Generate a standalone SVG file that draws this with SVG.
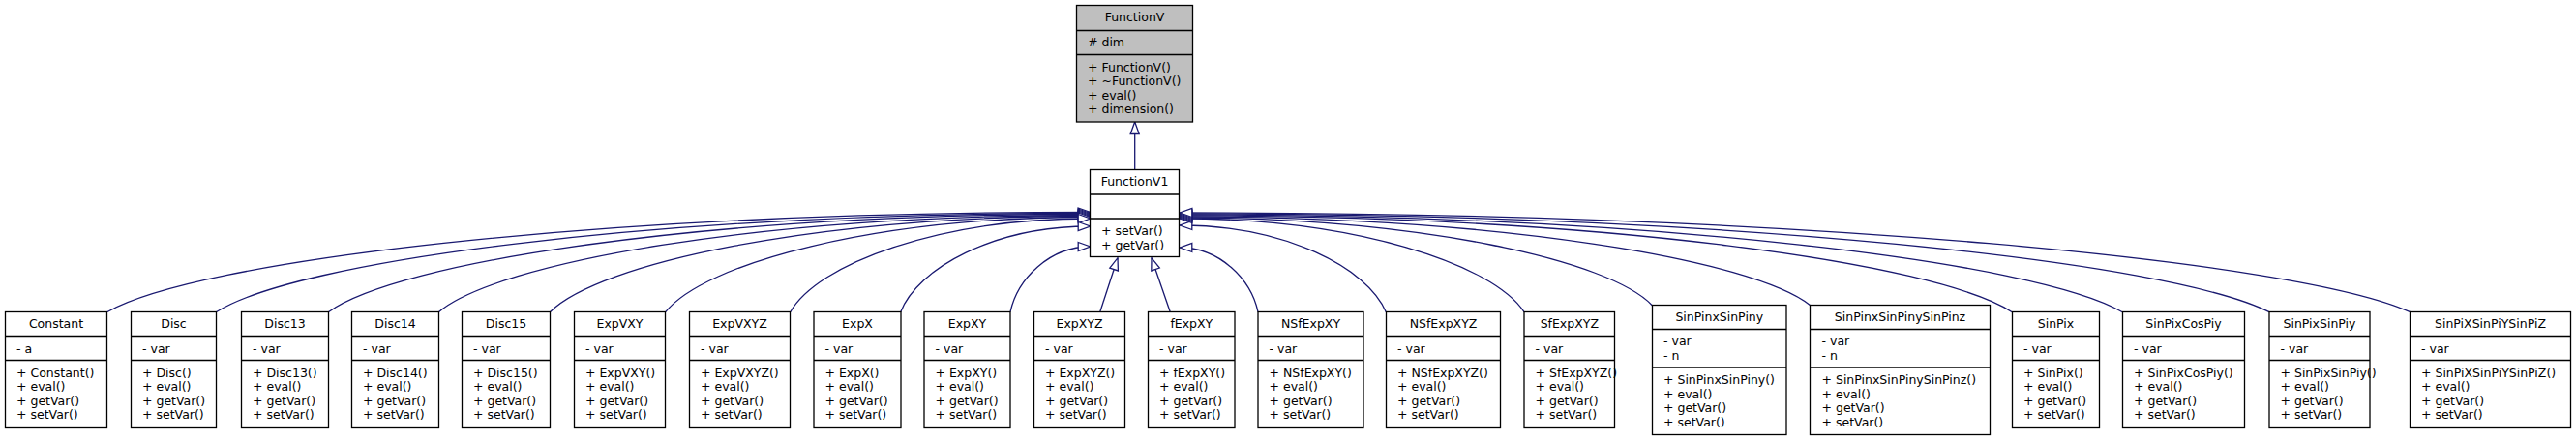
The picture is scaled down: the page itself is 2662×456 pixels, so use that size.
<svg xmlns="http://www.w3.org/2000/svg" width="2662" height="456" viewBox="0 0 2662 456">
<style>
.bg{fill:#fff}
.box{fill:#fff;stroke:#000;stroke-width:1.3}
.grey{fill:#bfbfbf}
.sep{stroke:#000;stroke-width:1.3}
.t{font-family:'DejaVu Sans',sans-serif;font-size:12.5px;fill:#000}
.c{text-anchor:middle}
.e{fill:none;stroke:#191970;stroke-width:1.3}
</style>
<defs>
<marker id="ah" markerUnits="userSpaceOnUse" markerWidth="16" markerHeight="14" refX="13" refY="6" orient="auto" overflow="visible">
<path d="M0.5,1.5 L13,6 L0.5,10.5 Z" fill="#fff" stroke="#191970" stroke-width="1.3"/>
</marker>
</defs>
<rect class="bg" x="0" y="0" width="2662" height="456"/>
<g id="edges">
<path class="e" d="M1172.7,175.3 L1172.7,126" marker-end="url(#ah)"/>
<path class="e" d="M110.5,322.7 C202,270.1 608.4,219.5 1126.7,219.5" marker-end="url(#ah)"/>
<path class="e" d="M223.3,322.7 C304.6,270.6 666,220.5 1126.7,220.5" marker-end="url(#ah)"/>
<path class="e" d="M339.3,322.7 C410.2,271.1 725.1,221.5 1126.7,221.5" marker-end="url(#ah)"/>
<path class="e" d="M453.3,322.7 C513.9,271.6 783.3,222.5 1126.7,222.5" marker-end="url(#ah)"/>
<path class="e" d="M568.3,322.7 C618.6,272.1 841.9,223.5 1126.7,223.5" marker-end="url(#ah)"/>
<path class="e" d="M687.7,322.7 C727.2,272.6 902.8,224.5 1126.7,224.5" marker-end="url(#ah)"/>
<path class="e" d="M816.7,322.7 C844.6,273.4 968.6,226 1126.7,226" marker-end="url(#ah)"/>
<path class="e" d="M930.7,322.7 C948.3,277.5 1026.7,234 1126.7,234" marker-end="url(#ah)"/>
<path class="e" d="M1044,322.7 C1051.4,288.2 1084.5,255 1126.7,255" marker-end="url(#ah)"/>
<path class="e" d="M1136.7,322.7 L1155,266.7" marker-end="url(#ah)"/>
<path class="e" d="M1209.3,322.7 L1190,266.7" marker-end="url(#ah)"/>
<path class="e" d="M1300,322.7 C1292.7,288.7 1260.5,256 1219.3,256" marker-end="url(#ah)"/>
<path class="e" d="M1432.3,322.7 C1413.1,277 1327.9,233 1219.3,233" marker-end="url(#ah)"/>
<path class="e" d="M1575,322.7 C1543,273.4 1400.7,226 1219.3,226" marker-end="url(#ah)"/>
<path class="e" d="M1707.3,315.7 C1663.4,269.4 1468.2,225 1219.3,225" marker-end="url(#ah)"/>
<path class="e" d="M1870.7,315.7 C1812.1,268.9 1551.5,224 1219.3,224" marker-end="url(#ah)"/>
<path class="e" d="M2079.3,322.7 C2001.9,271.9 1657.9,223 1219.3,223" marker-end="url(#ah)"/>
<path class="e" d="M2193.3,322.7 C2105.6,271.3 1716,222 1219.3,222" marker-end="url(#ah)"/>
<path class="e" d="M2345,322.7 C2243.7,270.8 1793.4,221 1219.3,221" marker-end="url(#ah)"/>
<path class="e" d="M2490.7,322.7 C2376.3,270.3 1867.7,220 1219.3,220" marker-end="url(#ah)"/>
</g>
<g id="FunctionV">
<rect class="box grey" x="1112.5" y="5.5" width="120" height="120.5"/>
<line class="sep" x1="1112.5" y1="31.5" x2="1232.5" y2="31.5"/>
<line class="sep" x1="1112.5" y1="56.5" x2="1232.5" y2="56.5"/>
<text class="t c" x="1172.5" y="22">FunctionV</text>
<text class="t" x="1124" y="47.5"># dim</text>
<text class="t" x="1124" y="73.5">+ FunctionV()</text>
<text class="t" x="1124" y="88">+ ~FunctionV()</text>
<text class="t" x="1124" y="102.5">+ eval()</text>
<text class="t" x="1124" y="117">+ dimension()</text>
</g>
<g id="FunctionV1">
<rect class="box" x="1126.5" y="175.5" width="92" height="90"/>
<line class="sep" x1="1126.5" y1="201" x2="1218.5" y2="201"/>
<line class="sep" x1="1126.5" y1="226" x2="1218.5" y2="226"/>
<text class="t c" x="1172.5" y="192">FunctionV1</text>
<text class="t" x="1138" y="243">+ setVar()</text>
<text class="t" x="1138" y="257.5">+ getVar()</text>
</g>
<g id="Constant">
<rect class="box" x="5.5" y="322.5" width="105" height="120"/>
<line class="sep" x1="5.5" y1="347.5" x2="110.5" y2="347.5"/>
<line class="sep" x1="5.5" y1="372.5" x2="110.5" y2="372.5"/>
<text class="t c" x="58" y="339">Constant</text>
<text class="t" x="17" y="364.5">- a</text>
<text class="t" x="17" y="389.5">+ Constant()</text>
<text class="t" x="17" y="404">+ eval()</text>
<text class="t" x="17" y="418.5">+ getVar()</text>
<text class="t" x="17" y="433">+ setVar()</text>
</g>
<g id="Disc">
<rect class="box" x="135.5" y="322.5" width="88" height="120"/>
<line class="sep" x1="135.5" y1="347.5" x2="223.5" y2="347.5"/>
<line class="sep" x1="135.5" y1="372.5" x2="223.5" y2="372.5"/>
<text class="t c" x="179.5" y="339">Disc</text>
<text class="t" x="147" y="364.5">- var</text>
<text class="t" x="147" y="389.5">+ Disc()</text>
<text class="t" x="147" y="404">+ eval()</text>
<text class="t" x="147" y="418.5">+ getVar()</text>
<text class="t" x="147" y="433">+ setVar()</text>
</g>
<g id="Disc13">
<rect class="box" x="249.5" y="322.5" width="90" height="120"/>
<line class="sep" x1="249.5" y1="347.5" x2="339.5" y2="347.5"/>
<line class="sep" x1="249.5" y1="372.5" x2="339.5" y2="372.5"/>
<text class="t c" x="294.5" y="339">Disc13</text>
<text class="t" x="261" y="364.5">- var</text>
<text class="t" x="261" y="389.5">+ Disc13()</text>
<text class="t" x="261" y="404">+ eval()</text>
<text class="t" x="261" y="418.5">+ getVar()</text>
<text class="t" x="261" y="433">+ setVar()</text>
</g>
<g id="Disc14">
<rect class="box" x="363.5" y="322.5" width="90" height="120"/>
<line class="sep" x1="363.5" y1="347.5" x2="453.5" y2="347.5"/>
<line class="sep" x1="363.5" y1="372.5" x2="453.5" y2="372.5"/>
<text class="t c" x="408.5" y="339">Disc14</text>
<text class="t" x="375" y="364.5">- var</text>
<text class="t" x="375" y="389.5">+ Disc14()</text>
<text class="t" x="375" y="404">+ eval()</text>
<text class="t" x="375" y="418.5">+ getVar()</text>
<text class="t" x="375" y="433">+ setVar()</text>
</g>
<g id="Disc15">
<rect class="box" x="477.5" y="322.5" width="91" height="120"/>
<line class="sep" x1="477.5" y1="347.5" x2="568.5" y2="347.5"/>
<line class="sep" x1="477.5" y1="372.5" x2="568.5" y2="372.5"/>
<text class="t c" x="523" y="339">Disc15</text>
<text class="t" x="489" y="364.5">- var</text>
<text class="t" x="489" y="389.5">+ Disc15()</text>
<text class="t" x="489" y="404">+ eval()</text>
<text class="t" x="489" y="418.5">+ getVar()</text>
<text class="t" x="489" y="433">+ setVar()</text>
</g>
<g id="ExpVXY">
<rect class="box" x="593.5" y="322.5" width="94" height="120"/>
<line class="sep" x1="593.5" y1="347.5" x2="687.5" y2="347.5"/>
<line class="sep" x1="593.5" y1="372.5" x2="687.5" y2="372.5"/>
<text class="t c" x="640.5" y="339">ExpVXY</text>
<text class="t" x="605" y="364.5">- var</text>
<text class="t" x="605" y="389.5">+ ExpVXY()</text>
<text class="t" x="605" y="404">+ eval()</text>
<text class="t" x="605" y="418.5">+ getVar()</text>
<text class="t" x="605" y="433">+ setVar()</text>
</g>
<g id="ExpVXYZ">
<rect class="box" x="712.5" y="322.5" width="104" height="120"/>
<line class="sep" x1="712.5" y1="347.5" x2="816.5" y2="347.5"/>
<line class="sep" x1="712.5" y1="372.5" x2="816.5" y2="372.5"/>
<text class="t c" x="764.5" y="339">ExpVXYZ</text>
<text class="t" x="724" y="364.5">- var</text>
<text class="t" x="724" y="389.5">+ ExpVXYZ()</text>
<text class="t" x="724" y="404">+ eval()</text>
<text class="t" x="724" y="418.5">+ getVar()</text>
<text class="t" x="724" y="433">+ setVar()</text>
</g>
<g id="ExpX">
<rect class="box" x="841" y="322.5" width="90" height="120"/>
<line class="sep" x1="841" y1="347.5" x2="931" y2="347.5"/>
<line class="sep" x1="841" y1="372.5" x2="931" y2="372.5"/>
<text class="t c" x="886" y="339">ExpX</text>
<text class="t" x="852.5" y="364.5">- var</text>
<text class="t" x="852.5" y="389.5">+ ExpX()</text>
<text class="t" x="852.5" y="404">+ eval()</text>
<text class="t" x="852.5" y="418.5">+ getVar()</text>
<text class="t" x="852.5" y="433">+ setVar()</text>
</g>
<g id="ExpXY">
<rect class="box" x="955" y="322.5" width="89" height="120"/>
<line class="sep" x1="955" y1="347.5" x2="1044" y2="347.5"/>
<line class="sep" x1="955" y1="372.5" x2="1044" y2="372.5"/>
<text class="t c" x="999.5" y="339">ExpXY</text>
<text class="t" x="966.5" y="364.5">- var</text>
<text class="t" x="966.5" y="389.5">+ ExpXY()</text>
<text class="t" x="966.5" y="404">+ eval()</text>
<text class="t" x="966.5" y="418.5">+ getVar()</text>
<text class="t" x="966.5" y="433">+ setVar()</text>
</g>
<g id="ExpXYZ">
<rect class="box" x="1068.5" y="322.5" width="94" height="120"/>
<line class="sep" x1="1068.5" y1="347.5" x2="1162.5" y2="347.5"/>
<line class="sep" x1="1068.5" y1="372.5" x2="1162.5" y2="372.5"/>
<text class="t c" x="1115.5" y="339">ExpXYZ</text>
<text class="t" x="1080" y="364.5">- var</text>
<text class="t" x="1080" y="389.5">+ ExpXYZ()</text>
<text class="t" x="1080" y="404">+ eval()</text>
<text class="t" x="1080" y="418.5">+ getVar()</text>
<text class="t" x="1080" y="433">+ setVar()</text>
</g>
<g id="fExpXY">
<rect class="box" x="1186.5" y="322.5" width="89.5" height="120"/>
<line class="sep" x1="1186.5" y1="347.5" x2="1276" y2="347.5"/>
<line class="sep" x1="1186.5" y1="372.5" x2="1276" y2="372.5"/>
<text class="t c" x="1231.3" y="339">fExpXY</text>
<text class="t" x="1198" y="364.5">- var</text>
<text class="t" x="1198" y="389.5">+ fExpXY()</text>
<text class="t" x="1198" y="404">+ eval()</text>
<text class="t" x="1198" y="418.5">+ getVar()</text>
<text class="t" x="1198" y="433">+ setVar()</text>
</g>
<g id="NSfExpXY">
<rect class="box" x="1300" y="322.5" width="109" height="120"/>
<line class="sep" x1="1300" y1="347.5" x2="1409" y2="347.5"/>
<line class="sep" x1="1300" y1="372.5" x2="1409" y2="372.5"/>
<text class="t c" x="1354.5" y="339">NSfExpXY</text>
<text class="t" x="1311.5" y="364.5">- var</text>
<text class="t" x="1311.5" y="389.5">+ NSfExpXY()</text>
<text class="t" x="1311.5" y="404">+ eval()</text>
<text class="t" x="1311.5" y="418.5">+ getVar()</text>
<text class="t" x="1311.5" y="433">+ setVar()</text>
</g>
<g id="NSfExpXYZ">
<rect class="box" x="1432.5" y="322.5" width="118" height="120"/>
<line class="sep" x1="1432.5" y1="347.5" x2="1550.5" y2="347.5"/>
<line class="sep" x1="1432.5" y1="372.5" x2="1550.5" y2="372.5"/>
<text class="t c" x="1491.5" y="339">NSfExpXYZ</text>
<text class="t" x="1444" y="364.5">- var</text>
<text class="t" x="1444" y="389.5">+ NSfExpXYZ()</text>
<text class="t" x="1444" y="404">+ eval()</text>
<text class="t" x="1444" y="418.5">+ getVar()</text>
<text class="t" x="1444" y="433">+ setVar()</text>
</g>
<g id="SfExpXYZ">
<rect class="box" x="1575" y="322.5" width="93.5" height="120"/>
<line class="sep" x1="1575" y1="347.5" x2="1668.5" y2="347.5"/>
<line class="sep" x1="1575" y1="372.5" x2="1668.5" y2="372.5"/>
<text class="t c" x="1621.8" y="339">SfExpXYZ</text>
<text class="t" x="1586.5" y="364.5">- var</text>
<text class="t" x="1586.5" y="389.5">+ SfExpXYZ()</text>
<text class="t" x="1586.5" y="404">+ eval()</text>
<text class="t" x="1586.5" y="418.5">+ getVar()</text>
<text class="t" x="1586.5" y="433">+ setVar()</text>
</g>
<g id="SinPinxSinPiny">
<rect class="box" x="1707.5" y="315.5" width="138.5" height="134"/>
<line class="sep" x1="1707.5" y1="340.5" x2="1846" y2="340.5"/>
<line class="sep" x1="1707.5" y1="380" x2="1846" y2="380"/>
<text class="t c" x="1776.8" y="332">SinPinxSinPiny</text>
<text class="t" x="1719" y="357">- var</text>
<text class="t" x="1719" y="371.5">- n</text>
<text class="t" x="1719" y="397">+ SinPinxSinPiny()</text>
<text class="t" x="1719" y="411.5">+ eval()</text>
<text class="t" x="1719" y="426">+ getVar()</text>
<text class="t" x="1719" y="440.5">+ setVar()</text>
</g>
<g id="SinPinxSinPinySinPinz">
<rect class="box" x="1870.5" y="315.5" width="186" height="134"/>
<line class="sep" x1="1870.5" y1="340.5" x2="2056.5" y2="340.5"/>
<line class="sep" x1="1870.5" y1="380" x2="2056.5" y2="380"/>
<text class="t c" x="1963.5" y="332">SinPinxSinPinySinPinz</text>
<text class="t" x="1882.5" y="357">- var</text>
<text class="t" x="1882.5" y="371.5">- n</text>
<text class="t" x="1882.5" y="397">+ SinPinxSinPinySinPinz()</text>
<text class="t" x="1882.5" y="411.5">+ eval()</text>
<text class="t" x="1882.5" y="426">+ getVar()</text>
<text class="t" x="1882.5" y="440.5">+ setVar()</text>
</g>
<g id="SinPix">
<rect class="box" x="2079.5" y="322.5" width="90" height="120"/>
<line class="sep" x1="2079.5" y1="347.5" x2="2169.5" y2="347.5"/>
<line class="sep" x1="2079.5" y1="372.5" x2="2169.5" y2="372.5"/>
<text class="t c" x="2124.5" y="339">SinPix</text>
<text class="t" x="2091" y="364.5">- var</text>
<text class="t" x="2091" y="389.5">+ SinPix()</text>
<text class="t" x="2091" y="404">+ eval()</text>
<text class="t" x="2091" y="418.5">+ getVar()</text>
<text class="t" x="2091" y="433">+ setVar()</text>
</g>
<g id="SinPixCosPiy">
<rect class="box" x="2193.5" y="322.5" width="126" height="120"/>
<line class="sep" x1="2193.5" y1="347.5" x2="2319.5" y2="347.5"/>
<line class="sep" x1="2193.5" y1="372.5" x2="2319.5" y2="372.5"/>
<text class="t c" x="2256.5" y="339">SinPixCosPiy</text>
<text class="t" x="2205" y="364.5">- var</text>
<text class="t" x="2205" y="389.5">+ SinPixCosPiy()</text>
<text class="t" x="2205" y="404">+ eval()</text>
<text class="t" x="2205" y="418.5">+ getVar()</text>
<text class="t" x="2205" y="433">+ setVar()</text>
</g>
<g id="SinPixSinPiy">
<rect class="box" x="2345" y="322.5" width="104" height="120"/>
<line class="sep" x1="2345" y1="347.5" x2="2449" y2="347.5"/>
<line class="sep" x1="2345" y1="372.5" x2="2449" y2="372.5"/>
<text class="t c" x="2397" y="339">SinPixSinPiy</text>
<text class="t" x="2356.5" y="364.5">- var</text>
<text class="t" x="2356.5" y="389.5">+ SinPixSinPiy()</text>
<text class="t" x="2356.5" y="404">+ eval()</text>
<text class="t" x="2356.5" y="418.5">+ getVar()</text>
<text class="t" x="2356.5" y="433">+ setVar()</text>
</g>
<g id="SinPiXSinPiYSinPiZ">
<rect class="box" x="2490.5" y="322.5" width="166" height="120"/>
<line class="sep" x1="2490.5" y1="347.5" x2="2656.5" y2="347.5"/>
<line class="sep" x1="2490.5" y1="372.5" x2="2656.5" y2="372.5"/>
<text class="t c" x="2573.5" y="339">SinPiXSinPiYSinPiZ</text>
<text class="t" x="2502" y="364.5">- var</text>
<text class="t" x="2502" y="389.5">+ SinPiXSinPiYSinPiZ()</text>
<text class="t" x="2502" y="404">+ eval()</text>
<text class="t" x="2502" y="418.5">+ getVar()</text>
<text class="t" x="2502" y="433">+ setVar()</text>
</g>
</svg>
